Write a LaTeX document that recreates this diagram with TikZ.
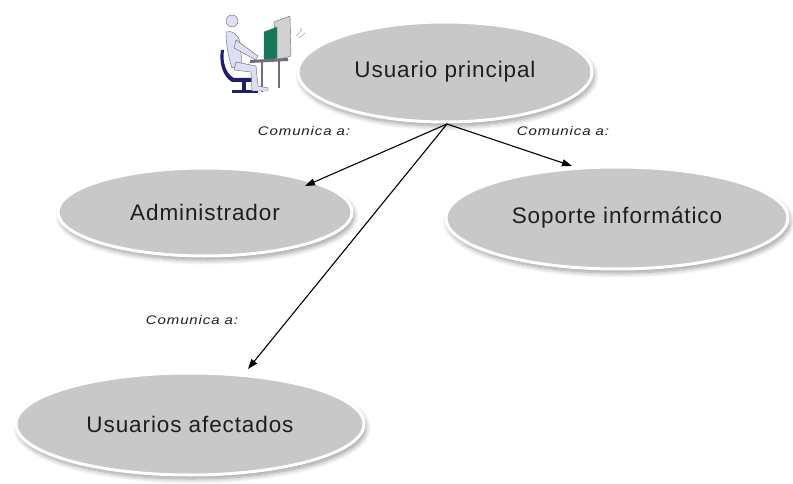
\documentclass[tikz,border=0pt]{standalone}
\usepackage{fontspec}
\setmainfont{Liberation Sans}
\usetikzlibrary{shapes.geometric,arrows.meta,shadows.blur}
\definecolor{ovalfill}{RGB}{200,200,200}
\definecolor{inktext}{RGB}{30,30,30}
\definecolor{chairblue}{RGB}{30,30,110}
\definecolor{skin}{RGB}{222,222,245}
\definecolor{screengreen}{RGB}{20,120,90}
\definecolor{deskgray}{RGB}{110,110,120}
\tikzset{
  usecase/.style={ellipse, inner sep=0pt, fill=ovalfill, draw=white, line width=3pt,
    text=inktext, font=\fontsize{22.5}{26}\selectfont\addfontfeature{LetterSpace=4},
    blur shadow={shadow xshift=2pt, shadow yshift=-4pt, shadow blur radius=5pt, shadow blur steps=10, shadow opacity=40}},
  comm/.style={-{Triangle[length=10pt,width=7pt]}, line width=1.1pt, black},
  commlabel/.style={font=\fontsize{12.5}{14}\selectfont\itshape\addfontfeature{FakeStretch=1.2,LetterSpace=7}, text=inktext, inner sep=0pt},
  outline/.style={draw=black!60, line width=0.4pt}
}
\begin{document}
\begin{tikzpicture}[x=1pt,y=-1pt]
\useasboundingbox (0,0) rectangle (793,484);

% use cases
\node[usecase, minimum width=294pt, minimum height=100pt] (main) at (445,72) {Usuario principal};
\node[usecase, minimum width=294pt, minimum height=88pt] (admin) at (205,212) {Administrador};
\node[usecase, minimum width=342pt, minimum height=102pt] (soporte) at (617,218) {Soporte informático};
\node[usecase, minimum width=348pt, minimum height=102pt] (afect) at (190,424) {Usuarios afectados};

% actor figure at the computer
\coordinate (hub) at (447,124);
% chair
\fill[chairblue] (224,50) .. controls (222,62) and (226,74) .. (234,78)
  -- (254,78) -- (254,82) -- (232,82) .. controls (222,76) and (219,62) .. (221,50) -- cycle;
\fill[chairblue] (242,82) rectangle (246,91);
\fill[chairblue] (232,90) rectangle (258,93);
% monitor back
\fill[black!18, outline] (274,22) -- (290,16) -- (291,56) -- (277,60) -- cycle;
% screen
\fill[screengreen, outline] (264,32) -- (277,27) -- (277,58) -- (264,62) -- cycle;
% desk
\fill[deskgray] (250,60) -- (288,58) -- (288,61) -- (250,63) -- cycle;
\fill[deskgray] (261,62) rectangle (263,92);
\fill[deskgray] (278,60) rectangle (280,88);
% person
\fill[skin, outline] (232,21) circle (6);
\fill[skin, outline] (226,32) .. controls (232,30) and (238,34) .. (240,42)
  -- (242,64) -- (232,68) .. controls (228,56) and (226,44) .. cycle;
\fill[skin, outline] (236,40) -- (258,56) -- (256,60) -- (234,48) -- cycle;
\fill[skin, outline] (236,62) -- (256,66) -- (258,86) -- (268,88) -- (268,91) -- (252,91)
  -- (251,72) -- (234,70) -- cycle;
% sparkle
\draw[black!35, line width=0.6pt] (296,36) -- (302,30) (299,38) -- (305,33) (300,30) -- (302,28);

% connectors
\draw[comm] (hub) -- (305,186);
\draw[comm] (hub) -- (572,166);
\draw[comm] (hub) -- (248,369);

% labels
\node[commlabel] (l1) at (304,131) {Comunica a:};
\node[commlabel] (l2) at (563,131) {Comunica a:};
\node[commlabel] (l3) at (192,320) {Comunica a:};
\end{tikzpicture}
\end{document}
